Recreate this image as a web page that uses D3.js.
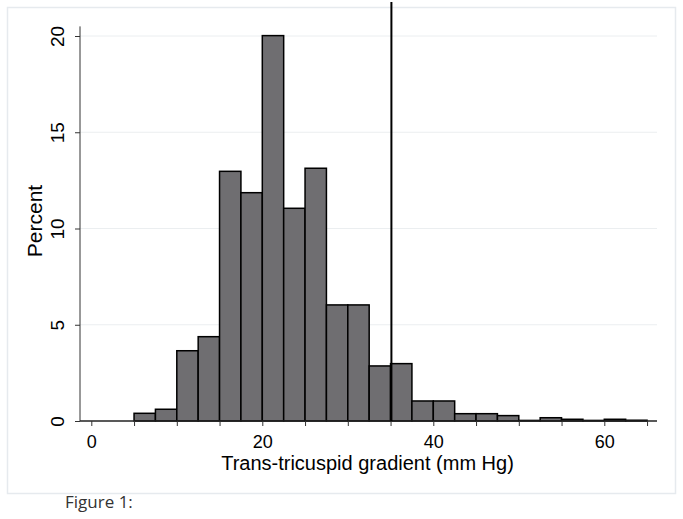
<!DOCTYPE html>
<html>
<head>
<meta charset="utf-8">
<script src="https://cdn.jsdelivr.net/npm/d3@7"></script>
<style>
  body { margin: 0; background: #fff; }
  svg { display: block; font-family: "Liberation Sans", Arial, sans-serif; }
</style>
</head>
<body>
<svg id="chart" width="683" height="519"></svg>
<script>
// histogram bins (start of each 2.5 mm Hg bin) and percent in each
const binStarts = [5, 7.5, 10, 12.5, 15, 17.5, 20, 22.5, 25, 27.5, 30, 32.5,
  35, 37.5, 40, 42.5, 45, 47.5, 50, 52.5, 55, 57.5, 60, 62.5];
const percents = [0.40, 0.61, 3.65, 4.38, 12.97, 11.86, 20.02, 11.05, 13.13, 6.03, 6.03, 2.86,
  2.98, 1.04, 1.04, 0.38, 0.38, 0.28, 0.03, 0.17, 0.09, 0.03, 0.09, 0.04];
const binWidth = 2.5;
const cutoff = 35.1;
const yTicks = [0, 5, 10, 15, 20];
const xTicks = [0, 5, 10, 15, 20, 25, 30, 35, 40, 45, 50, 55, 60, 65];
const xLabels = [0, 20, 40, 60];

const svg = d3.select("#chart");

// outer graph region border
svg.append("rect")
  .attr("x", 7.5).attr("y", 7.5)
  .attr("width", 668).attr("height", 486)
  .attr("fill", "#fff")
  .attr("stroke", "#e6eaee")
  .attr("stroke-width", 1.5);

const x = d3.scaleLinear().domain([0, 60]).range([91.3, 604.3]);
const y = d3.scaleLinear().domain([0, 20]).range([421, 36]);

const left = 80, right = 657;

// grid lines
svg.append("g")
  .selectAll("line")
  .data(yTicks.filter(d => d > 0))
  .join("line")
  .attr("x1", left).attr("x2", right)
  .attr("y1", d => y(d)).attr("y2", d => y(d))
  .attr("stroke", "#ebeef0")
  .attr("stroke-width", 1);

// bars
svg.append("g")
  .selectAll("rect")
  .data(binStarts)
  .join("rect")
  .attr("x", d => x(d))
  .attr("width", d => x(d + binWidth) - x(d))
  .attr("y", (d, i) => y(percents[i]))
  .attr("height", (d, i) => y(0) - y(percents[i]))
  .attr("fill", "#6f6e71")
  .attr("stroke", "#000")
  .attr("stroke-width", 1.5);

// y axis
const yAxis = svg.append("g")
  .attr("transform", `translate(${left},0)`)
  .call(d3.axisLeft(y).tickValues(yTicks).tickSize(5).tickSizeOuter(0));
yAxis.select(".domain").attr("d", `M0,${y(20.5)}V${y(0)}`).attr("stroke", "#333");
yAxis.selectAll(".tick line").attr("stroke", "#333");
yAxis.selectAll(".tick text")
  .attr("font-size", 19)
  .attr("fill", "#000")
  .attr("x", null)
  .attr("text-anchor", "middle")
  .attr("transform", "translate(-23,0) rotate(-90)")
  .attr("dy", "0.36em");

// x axis
const xAxis = svg.append("g")
  .attr("transform", `translate(0,${y(0)})`)
  .call(d3.axisBottom(x).tickValues(xTicks).tickSize(5).tickPadding(9)
    .tickFormat(d => xLabels.includes(d) ? d : "").tickSizeOuter(0));
xAxis.select(".domain").attr("d", `M${left},0H${right}`).attr("stroke", "#222").attr("stroke-width", 1.5);
xAxis.selectAll(".tick line").attr("stroke", "#333");
xAxis.selectAll(".tick text").attr("font-size", 18).attr("fill", "#000");

// cutoff line
svg.append("line")
  .attr("x1", x(cutoff)).attr("x2", x(cutoff))
  .attr("y1", 2).attr("y2", y(0))
  .attr("stroke", "#000")
  .attr("stroke-width", 2);

// axis titles
svg.append("text")
  .attr("transform", "translate(42,221) rotate(-90)")
  .attr("text-anchor", "middle")
  .attr("font-size", 21)
  .text("Percent");

svg.append("text")
  .attr("x", 367.5).attr("y", 470)
  .attr("text-anchor", "middle")
  .attr("font-size", 20)
  .text("Trans-tricuspid gradient (mm Hg)");

svg.append("text")
  .attr("x", 65).attr("y", 508)
  .attr("font-family", "'Open Sans', sans-serif")
  .attr("font-size", 17)
  .attr("fill", "#333")
  .text("Figure 1:");
</script>
</body>
</html>
